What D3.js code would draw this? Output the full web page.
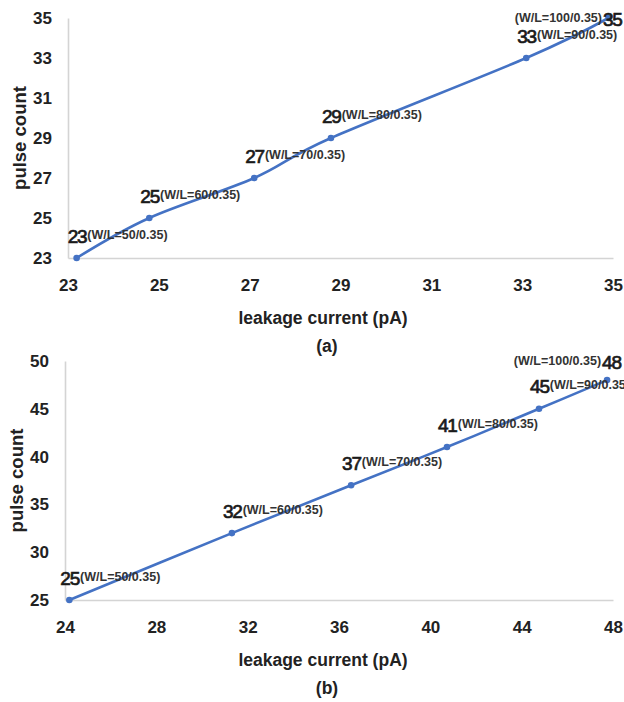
<!DOCTYPE html>
<html>
<head>
<meta charset="utf-8">
<script src="https://cdn.jsdelivr.net/npm/d3@7"></script>
<style>
	body { margin: 0; background: #fff; }
	svg { display: block; font-family: "Liberation Sans", Arial, sans-serif; }
</style>
</head>
<body>
<svg id="chart" width="624" height="702"></svg>
<script>

// W/L of the transistor for each point (length is always 0.35)
var wlWidths	=	[50, 60, 70, 80, 90, 100];

// (a)
var currentA	=	[23.19, 24.79, 27.1, 28.79, 33.09, 34.9];
var pulseA		=	[23, 25, 27, 29, 33, 35];
var xTicksA		=	[23, 25, 27, 29, 31, 33, 35];
var yTicksA		=	[23, 25, 27, 29, 31, 33, 35];

// (b)
var currentB	=	[24.19, 31.31, 36.53, 40.73, 44.76, 47.74];
var pulseB		=	[25, 32, 37, 41, 45, 48];
var xTicksB		=	[24, 28, 32, 36, 40, 44, 48];
var yTicksB		=	[25, 30, 35, 40, 45, 50];

var svg = d3.select('#chart');

function drawPanel(opt) {

	var x = d3.scaleLinear().domain(d3.extent(opt.xTicks)).range([opt.left, opt.right]);
	var y = d3.scaleLinear().domain(d3.extent(opt.yTicks)).range([opt.bottom, opt.top]);

	var g = svg.append('g');

	var xAxis = g.append('g')
	.attr('transform', 'translate(0,' + opt.bottom + ')')
	.call(d3.axisBottom(x).tickValues(opt.xTicks).tickSize(0).tickSizeOuter(0).tickPadding(21));

	var yAxis = g.append('g')
	.attr('transform', 'translate(' + opt.left + ',0)')
	.call(d3.axisLeft(y).tickValues(opt.yTicks).tickSize(0).tickSizeOuter(0).tickPadding(16));

	[xAxis, yAxis].forEach(function(a) {
		a.select('.domain').attr('stroke', '#d4d4d4').attr('stroke-width', 1.6);
		a.selectAll('text')
		.attr('font-size', 17)
		.attr('font-weight', 'bold')
		.attr('fill', '#222')
		.attr('font-family', '"Liberation Sans", Arial, sans-serif');
	});

	// axis titles
	g.append('text')
	.attr('transform', 'translate(' + (opt.left - 49) + ',' + ((opt.top + opt.bottom) / 2) + ') rotate(-90)')
	.attr('text-anchor', 'middle')
	.attr('dominant-baseline', 'central')
	.attr('font-size', 18.5)
	.attr('font-weight', 'bold')
	.attr('fill', '#222')
	.text('pulse count');

	g.append('text')
	.attr('x', 323)
	.attr('y', opt.bottom + 66)
	.attr('text-anchor', 'middle')
	.attr('font-size', 17.5)
	.attr('font-weight', 'bold')
	.attr('fill', '#222')
	.text('leakage current (pA)');

	g.append('text')
	.attr('x', 327)
	.attr('y', opt.bottom + 94)
	.attr('text-anchor', 'middle')
	.attr('font-size', 17.5)
	.attr('font-weight', 'bold')
	.attr('fill', '#222')
	.text(opt.name);

	var pts = opt.xs.map(function(v, i) { return { x: v, y: opt.ys[i], w: wlWidths[i] }; });

	var line = d3.line()
	.x(function(d) { return x(d.x); })
	.y(function(d) { return y(d.y); })
	.curve(d3.curveCardinal.tension(0));

	g.append('path')
	.datum(pts)
	.attr('d', line)
	.attr('fill', 'none')
	.attr('stroke', '#4472c4')
	.attr('stroke-width', 2.6);

	g.selectAll('circle.pt')
	.data(pts)
	.enter().append('circle')
	.attr('class', 'pt')
	.attr('cx', function(d) { return x(d.x); })
	.attr('cy', function(d) { return y(d.y); })
	.attr('r', 3.3)
	.attr('fill', '#4472c4');

	// data labels
	pts.forEach(function(d, i) {

		var px	=	x(d.x);
		var py	=	y(d.y);
		var ly	=	Math.max(py - 22, opt.top + 1);
		var last	=	(i == pts.length - 1);
		var nx	=	last ? Math.min(px - 5, 603) : px - 9;

		var num = g.append('text')
		.attr('x', nx)
		.attr('y', ly)
		.attr('dominant-baseline', 'central')
		.attr('font-size', 19)
		.attr('letter-spacing', -1.2)
		.attr('fill', '#1a1a1a')
		.attr('stroke', '#1a1a1a')
		.attr('stroke-width', 0.7)
		.text(d.y);

		var nw = num.node().getComputedTextLength();

		g.append('text')
		.attr('x', last ? nx - 1 : nx + nw + 1)
		.attr('y', ly - 1.5)
		.attr('text-anchor', last ? 'end' : 'start')
		.attr('dominant-baseline', 'central')
		.attr('font-size', 12.5)
		.attr('font-weight', 'bold')
		.attr('fill', '#333')
		.text('(W/L=' + d.w + '/0.35)');
	});
}

drawPanel({ name: '(a)', xs: currentA, ys: pulseA, xTicks: xTicksA, yTicks: yTicksA,
	left: 68, right: 613, top: 18, bottom: 258 });

drawPanel({ name: '(b)', xs: currentB, ys: pulseB, xTicks: xTicksB, yTicks: yTicksB,
	left: 65, right: 613, top: 361, bottom: 600 });

</script>
</body>
</html>
